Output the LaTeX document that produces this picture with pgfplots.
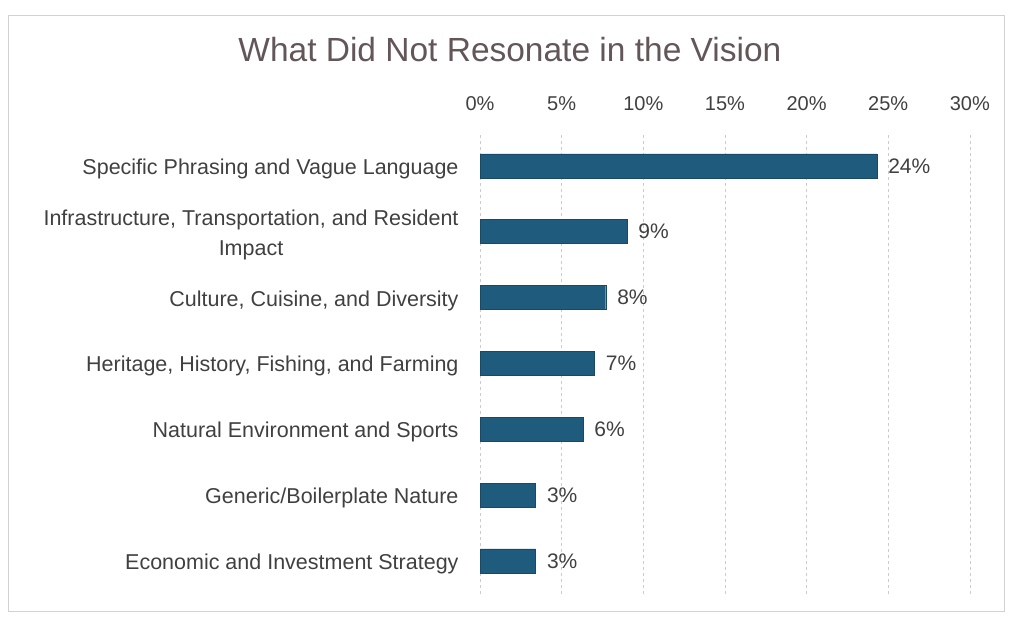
\documentclass[border=0pt]{standalone}
\usepackage{pgfplots}
\pgfplotsset{compat=1.18}
\usepackage{fontspec}
\setmainfont{Liberation Sans}
\definecolor{barblue}{RGB}{31,91,125}
\definecolor{txt}{RGB}{64,64,64}
\definecolor{ttl}{RGB}{98,86,88}
\begin{document}
\begin{tikzpicture}
\begin{axis}[
  scale only axis,
  width=490pt, height=461pt,
  xbar, bar width=24pt,
  xmin=0, xmax=30,
  ymin=-0.5, ymax=6.5,
  xtick={0,5,10,15,20,25,30},
  xticklabel={\pgfmathprintnumber{\tick}\%},
  xticklabel pos=top,
  xticklabel style={font=\fontsize{20}{22}\selectfont, text=txt, yshift=19pt},
  /pgf/number format/assume math mode=true,
  ytick={0,1,2,3,4,5,6},
  yticklabels={{Economic and Investment Strategy},{Generic/Boilerplate Nature},{Natural Environment and Sports},{Heritage, History, Fishing, and Farming},{Culture, Cuisine, and Diversity},{Infrastructure, Transportation, and Resident\\Impact},{Specific Phrasing and Vague Language}},
  yticklabel style={font=\fontsize{21.5}{30}\selectfont, text=txt, align=center, xshift=-18pt, yshift=-3pt},
  major tick length=0pt,
  axis line style={draw=none},
  xmajorgrids,
  grid style={gray!40, dashed, line width=0.5pt},
  point meta=x,
  nodes near coords={\pgfmathprintnumber[fixed,precision=0]{\pgfplotspointmeta}\%},
  nodes near coords style={font=\fontsize{21}{22}\selectfont, text=txt, anchor=west, xshift=8pt},
  clip=false,
]
\addplot[fill=barblue, draw=barblue!80!black, line width=0.4pt] coordinates {
 (3.4,0) (3.4,1) (6.3,2) (7.0,3) (7.7,4) (9.0,5) (24.3,6)};
\node[font=\fontsize{33.5}{38}\selectfont, text=ttl] at (rel axis cs:0.061,1.18) {What Did Not Resonate in the Vision};
\draw[gray!35, line width=0.6pt] (rel axis cs:-0.963,-0.039) rectangle (rel axis cs:1.071,1.256);
\path (rel axis cs:-0.980,-0.0586) rectangle (rel axis cs:1.082,1.2885);
\end{axis}
\end{tikzpicture}
\end{document}
